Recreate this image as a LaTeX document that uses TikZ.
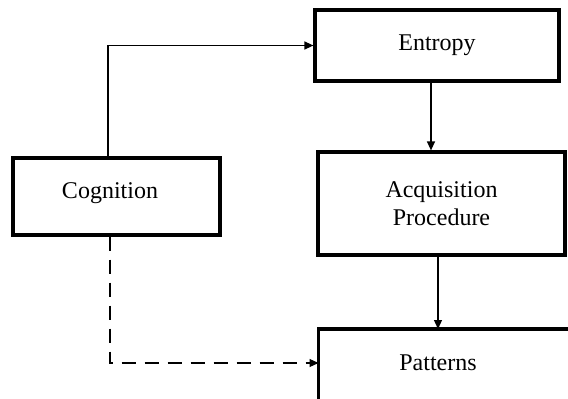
\documentclass[tikz,border=0pt]{standalone}
\usepackage{fontspec}
\setmainfont{Liberation Serif}
\usetikzlibrary{arrows.meta}
\begin{document}
\begin{tikzpicture}[x=1pt,y=-1pt,
  box/.style={draw, line width=3.2pt, inner sep=0pt, font=\fontsize{24}{28}\selectfont, align=center},
  lbl/.style={inner sep=0pt, font=\fontsize{24}{28}\selectfont, align=center},
  edge3/.style={line width=3.2pt, line join=miter},
  arr/.style={line width=1.2pt, -{Triangle[length=9pt,width=8pt]}},
  dsh/.style={line width=1.2pt, dash pattern=on 14pt off 9pt, -{Triangle[length=9pt,width=8pt]}}]
\useasboundingbox (0,0) rectangle (568,399);
\node[box, minimum width=244pt, minimum height=71pt] (ent) at (437,45.5) {Entropy};
\node[box, minimum width=247pt, minimum height=103pt] (acq) at (441.5,203.5) {Acquisition\\Procedure};
\node[box, minimum width=207pt, minimum height=77pt] (cog) at (116.5,196.5) {};
\node[lbl] (cogt) at (110,193) {Cognition};
\coordinate (pbl) at (318.5,400);
\coordinate (pnw) at (318.5,329);
\coordinate (ptr) at (569,329);
\draw[edge3] (pbl) -- (pnw) -- (ptr);
\node[lbl] (pat) at (438,363) {Patterns};
\draw[arr] ([xshift=-8.5pt]cog.north) |- (ent.west);
\draw[arr] ([xshift=-6pt]ent.south) -- ([xshift=-6pt]ent.south |- acq.north);
\draw[arr] ([xshift=-3.5pt]acq.south) -- ([xshift=-3.5pt]acq.south |- pnw);
\draw[dsh] ([xshift=-6.5pt]cog.south) |- (pat.west -| pnw);
\end{tikzpicture}
\end{document}
